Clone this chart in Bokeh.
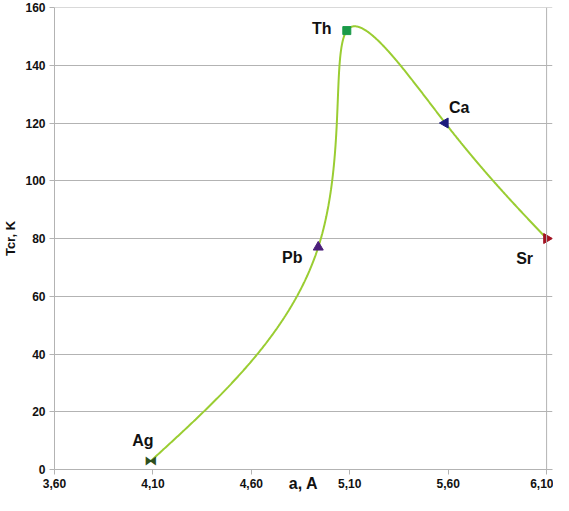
import numpy as np
from bokeh.plotting import figure
from bokeh.models import FixedTicker, Span
from bokeh.core.properties import value
from bokeh.embed import file_html
from bokeh.resources import INLINE

# ---- data ----
elements = ["Ag", "Pb", "Th", "Ca", "Sr"]
lattice_a = [4.09, 4.94, 5.085, 5.585, 6.10]
tcr = [3.0, 77.0, 152.0, 120.0, 80.0]
x_ticks = [3.60, 4.10, 4.60, 5.10, 5.60, 6.10]
x_tick_labels = ["3,60", "4,10", "4,60", "5,10", "5,60", "6,10"]
y_ticks = [0, 20, 40, 60, 80, 100, 120, 140, 160]
y_tick_labels = ["0", "20", "40", "60", "80", "100", "120", "140", "160"]

FONT = "Liberation Sans"
GRID = "#b3b3b3"
LINE = "#9ACD32"


def natural_spline(t, v, tt):
    n = len(t)
    h = np.diff(t)
    A = np.zeros((n, n))
    r = np.zeros(n)
    A[0, 0] = 1
    A[-1, -1] = 1
    for i in range(1, n - 1):
        A[i, i - 1] = h[i - 1]
        A[i, i] = 2 * (h[i - 1] + h[i])
        A[i, i + 1] = h[i]
        r[i] = 3 * ((v[i + 1] - v[i]) / h[i] - (v[i] - v[i - 1]) / h[i - 1])
    c = np.linalg.solve(A, r)
    out = np.empty_like(tt)
    for k, s in enumerate(tt):
        i = int(np.clip(np.searchsorted(t, s, side="right") - 1, 0, n - 2))
        d = s - t[i]
        b = (v[i + 1] - v[i]) / h[i] - h[i] * (2 * c[i] + c[i + 1]) / 3
        dd = (c[i + 1] - c[i]) / (3 * h[i])
        out[k] = v[i] + b * d + c[i] * d * d + dd * d ** 3
    return out


# smoothed line (parametric cubic spline through the data points)
tpar = np.arange(len(lattice_a), dtype=float)
tt = np.linspace(0, tpar[-1], 800)
cx = natural_spline(tpar, np.array(lattice_a), tt)
cy = natural_spline(tpar, np.array(tcr), tt)

p = figure(width=553, height=495, output_backend="svg", toolbar_location=None,
           x_range=(3.6, 6.13), y_range=(0, 160),
           min_border_left=49, min_border_top=7, min_border_right=1,
           min_border_bottom=26)
p.background_fill_color = "white"
p.border_fill_color = "white"
p.outline_line_color = None

p.xgrid.grid_line_color = None
p.ygrid.grid_line_color = GRID
p.ygrid.ticker = FixedTicker(ticks=y_ticks)
p.add_layout(Span(location=x_ticks[-1], dimension="height", line_color=GRID, line_width=1))
p.add_layout(Span(location=y_ticks[-1], dimension="width", line_color=GRID, line_width=1))

p.xaxis.ticker = FixedTicker(ticks=x_ticks)
p.xaxis.major_label_overrides = dict(zip(x_ticks, x_tick_labels))
p.yaxis.ticker = FixedTicker(ticks=y_ticks)
p.yaxis.major_label_overrides = dict(zip(y_ticks, y_tick_labels))

for ax in (p.xaxis[0], p.yaxis[0]):
    ax.axis_line_color = GRID
    ax.major_tick_line_color = GRID
    ax.minor_tick_line_color = None
    ax.major_tick_in = 0
    ax.major_tick_out = 5
    ax.major_label_text_font = FONT
    ax.major_label_text_font_size = "12px"
    ax.major_label_text_font_style = "bold"
    ax.major_label_text_color = "#111111"
    ax.major_label_standoff = 4
    ax.axis_label_text_font = FONT
    ax.axis_label_text_font_style = "bold"
    ax.axis_label_text_color = "#111111"

p.yaxis.axis_label = "Tcr, K"
p.yaxis.axis_label_text_font_size = "13px"
p.yaxis.axis_label_standoff = 4

p.xaxis.axis_label = "a, A"
p.xaxis.axis_label_text_font_size = "16px"
p.xaxis.axis_label_standoff = -16

p.line(cx, cy, line_color=LINE, line_width=2)

colors = ["#2d4f1e", "#4b1f7a", "#1a9a48", "#1c1c7c", "#a31322"]

# markers
p.text(x=[lattice_a[0]], y=[tcr[0]], text=["⧓"], text_color=colors[0],
       text_align="center", text_baseline="middle", text_font_size="13px",
       text_font=value("DejaVu Sans"))
p.scatter(x=[lattice_a[1]], y=[tcr[1]], marker="triangle", size=10, color=colors[1])
p.scatter(x=[lattice_a[2]], y=[tcr[2]], marker="square", size=8, color=colors[2])
p.scatter(x=[lattice_a[3]], y=[tcr[3]], marker="triangle", angle=np.pi / 2, size=10, color=colors[3])
p.scatter(x=[lattice_a[4]], y=[tcr[4]], marker="triangle", angle=-np.pi / 2, size=10, color=colors[4])

# element labels
xo = [-8, -26, -25, 14, -22]
yo = [-20, 10, -2, -16, 20]
p.text(x=lattice_a, y=tcr, text=elements, x_offset=xo, y_offset=yo,
       text_align="center", text_baseline="middle", text_font=value(FONT),
       text_font_size="16px", text_font_style="bold", text_color="#111111")

open("out.html", "w").write(file_html(p, INLINE))
